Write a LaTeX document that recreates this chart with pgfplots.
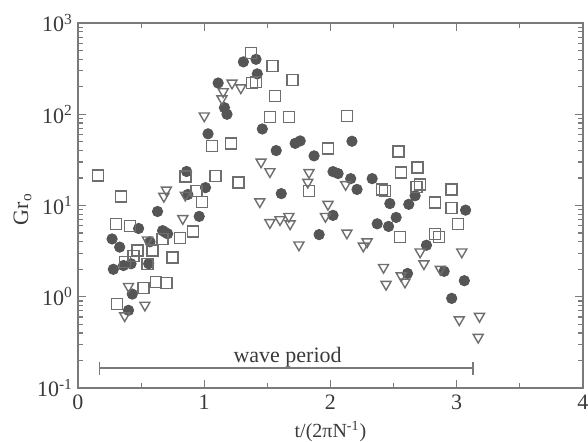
\documentclass[border=0pt]{standalone}
\usepackage{pgfplots}
\pgfplotsset{compat=1.18}
\usepackage{fontspec}
\setmainfont{Liberation Serif}
\definecolor{circ}{HTML}{555555}
\definecolor{sq}{HTML}{6E6E6E}
\definecolor{ax}{HTML}{7A7A7A}
\definecolor{txt}{HTML}{3A3A3A}
\begin{document}
\begin{tikzpicture}
\begin{axis}[
  name=ax,
  scale only axis, width=252.5pt, height=182.5pt,
  xmin=0, xmax=4, ymode=log, ymin=0.1, ymax=1000,
  xtick={0,1,2,3,4}, minor x tick num=1,
  ytick={0.1,1,10,100,1000},
  yticklabels={10\textsuperscript{-1},10\textsuperscript{0},10\textsuperscript{1},10\textsuperscript{2},10\textsuperscript{3}},
  /pgf/number format/assume math mode=true,
  tick align=inside,
  major tick length=4pt, minor tick length=2.5pt,
  axis line style={ax, line width=0.8pt},
  every tick/.style={ax, line width=0.6pt},
  tick label style={txt, font=\fontsize{11}{13}\selectfont},
  yticklabel style={xshift=1pt},
  xlabel={t/(2πN\textsuperscript{-1})},
  ylabel={Gr\textsubscript{o}},
  xlabel style={txt, font=\fontsize{10}{12}\selectfont, at={(axis description cs:0.5,-0.12)}, anchor=center},
  ylabel style={txt, font=\fontsize{11}{13}\selectfont, at={(axis description cs:-0.11,0.49)}, anchor=center},
  clip=false,
]
% filled circles
\addplot[only marks, mark=*, mark size=2.6pt, mark options={fill=circ, draw=circ}] coordinates {
(0.27,4.3) (0.33,3.5) (0.28,2.0) (0.36,2.2) (0.42,2.3) (0.56,2.3) (0.43,1.07) (0.40,0.71)
(0.48,5.6) (0.57,4.0) (0.63,8.6) (0.67,5.3) (0.69,5.1) (0.71,4.9) (0.86,23.6) (0.87,13.2)
(1.01,15.7) (0.96,7.6) (1.03,61) (1.11,220) (1.16,118) (1.18,100) (1.31,375) (1.41,400)
(1.42,277) (1.46,69) (1.57,40) (1.61,13.5) (1.72,48) (1.76,51) (1.87,35) (1.91,4.8)
(2.02,23.5) (2.06,22.4) (2.02,7.8) (2.16,19.7) (2.17,50.6) (2.21,15) (2.33,19.7) (2.37,6.3)
(2.46,5.9) (2.47,10.5) (2.52,7.4) (2.61,1.8) (2.62,10.3) (2.67,12.8) (2.76,3.67) (2.90,1.9)
(2.96,0.96) (3.06,1.5) (3.07,8.9)
};
% open squares
\addplot[only marks, mark=square, mark size=2.75pt, mark options={draw=sq, line width=0.7pt, fill=none}] coordinates {
(0.16,21.3) (0.34,12.6) (0.30,6.3) (0.41,6.0) (0.31,0.83) (0.37,2.4) (0.44,2.8) (0.47,3.2)
(0.59,3.2) (0.55,2.3) (0.67,4.3) (0.52,1.24) (0.62,1.45) (0.70,1.41) (0.75,2.7) (0.81,4.4)
(0.91,5.2) (0.85,20.8) (0.94,14.5) (0.98,11) (1.09,21) (1.06,45) (1.21,48) (1.27,17.8)
(1.37,470) (1.38,220) (1.41,225) (1.54,338) (1.56,159) (1.52,94) (1.67,94) (1.70,239)
(1.83,14.5) (1.98,42) (2.13,96) (2.41,15) (2.43,14.5) (2.54,39) (2.56,23) (2.69,26)
(2.68,16) (2.71,17) (2.83,10.8) (2.55,4.5) (2.83,4.9) (2.86,4.5) (2.96,15) (2.96,9.4)
(3.01,6.3)
};
% open down triangles
\addplot[only marks, mark=triangle, mark size=2.9pt, mark options={draw=sq, line width=0.7pt, fill=none, rotate=180}] coordinates {
(0.37,0.62) (0.40,1.3) (0.53,0.81) (0.55,4.2) (0.68,12.6) (0.70,14.8) (0.83,7.2) (0.85,13)
(1.00,96) (1.14,148) (1.15,177) (1.22,220) (1.29,195) (1.45,30) (1.52,23.5) (1.44,11)
(1.52,6.5) (1.60,7.0) (1.67,7.6) (1.68,6.3) (1.75,3.7) (1.83,23) (1.82,18) (1.96,7.6)
(1.98,10.3) (2.12,17) (2.13,5.0) (2.26,3.6) (2.29,4.0) (2.42,2.1) (2.44,1.37) (2.56,1.7)
(2.59,1.45) (2.71,3.1) (2.74,2.3) (2.87,2.0) (3.04,3.1) (3.02,0.56) (3.18,0.61) (3.17,0.36)
};
% wave period bar
\addplot[ax, line width=0.7pt, mark=|, mark size=3.25pt, mark options={ax, line width=0.7pt}] coordinates {(0.17,0.165) (3.13,0.165)};
\node[txt, anchor=base, font=\fontsize{11}{13}\selectfont] at (axis cs:1.66,0.19) {wave period};
\end{axis}
\pgfresetboundingbox
\path ([xshift=-39pt,yshift=-26.5pt]ax.south west) rectangle ([xshift=2.5pt,yshift=11.5pt]ax.north east);
\end{tikzpicture}
\end{document}
